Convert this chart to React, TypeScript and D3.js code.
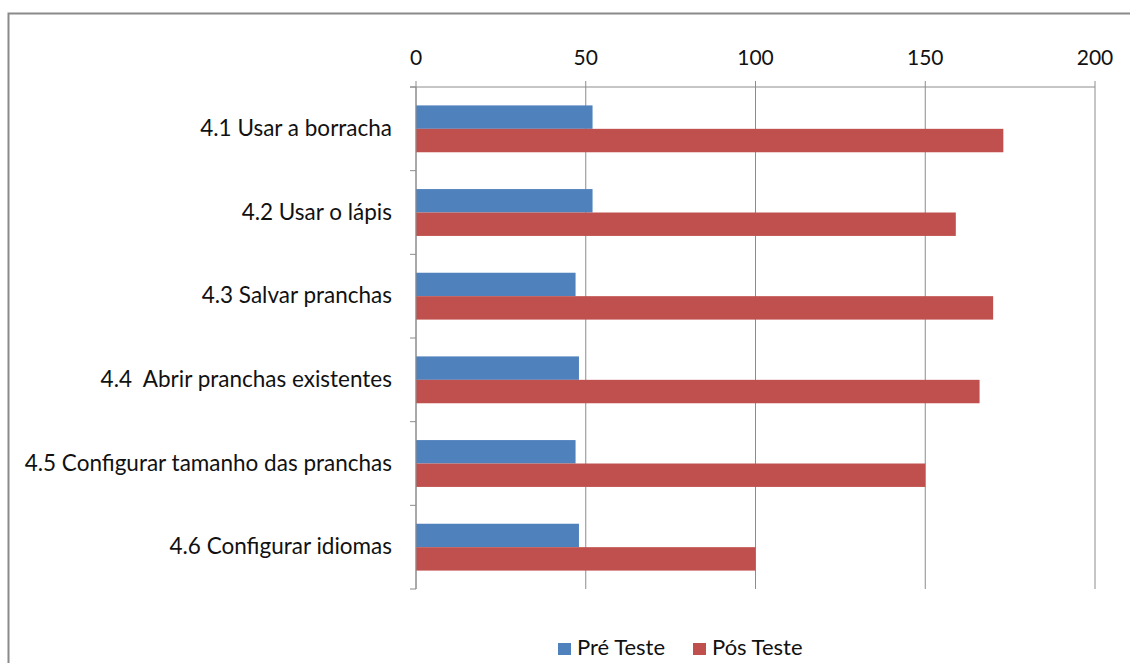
import React, { useEffect } from "react";
import * as d3 from "d3";

const categories = [
  "4.1 Usar a borracha",
  "4.2 Usar o lápis",
  "4.3 Salvar pranchas",
  "4.4  Abrir pranchas existentes",
  "4.5 Configurar tamanho das pranchas",
  "4.6 Configurar idiomas",
];
const preTeste = [52, 52, 47, 48, 47, 48];
const posTeste = [173, 159, 170, 166, 150, 100];
const xTicks = [0, 50, 100, 150, 200];
const seriesNames = ["Pré Teste", "Pós Teste"];
const colors = ["#4F81BD", "#C0504D"];

const W = 1130;
const H = 663;
const left = 416;
const right = 1095;
const top = 87;
const bottom = 589;
const FONT = "Lato, 'Open Sans', sans-serif";

export default function App() {
  useEffect(() => {
    document.body.style.margin = "0";
  }, []);
  const x = d3.scaleLinear().domain([0, 200]).range([left, right]);
  const y = d3.scaleBand<string>().domain(categories).range([top, bottom]).paddingInner(0).paddingOuter(0);
  const bandH = y.bandwidth();
  const groupPad = bandH * 0.22;
  const barH = (bandH - 2 * groupPad) / 2;
  const series = [preTeste, posTeste];
  const gridColor = "#8c8c8c";

  return (
    <div style={{ position: "absolute", left: 0, top: 0 }}>
      <svg width={W} height={H} style={{ display: "block" }}>
        <rect x={0} y={0} width={W} height={H} fill="#fff" />
        {/* frame */}
        <path d={`M8.5,${H} L8.5,13.5 L${W},13.5`} fill="none" stroke="#8a8a8a" strokeWidth={2} />
        {/* gridlines */}
        {xTicks.map((t) => (
          <line key={"g" + t} x1={x(t)} x2={x(t)} y1={top - 6} y2={bottom} stroke={gridColor} strokeWidth={1} />
        ))}
        {/* top axis line */}
        <line x1={left - 6} x2={right} y1={top} y2={top} stroke={gridColor} strokeWidth={1} />
        {/* category ticks */}
        {d3.range(categories.length + 1).map((i) => (
          <line key={"ct" + i} x1={left - 6} x2={left} y1={top + i * bandH} y2={top + i * bandH} stroke={gridColor} strokeWidth={1} />
        ))}
        {/* bars */}
        {categories.map((c, i) =>
          series.map((s, k) => (
            <rect
              key={c + k}
              x={x(0)}
              y={(y(c) as number) + groupPad + k * barH}
              width={x(s[i]) - x(0)}
              height={barH}
              fill={colors[k]}
            />
          ))
        )}
        {/* y axis line */}
        <line x1={left} x2={left} y1={top} y2={bottom} stroke={gridColor} strokeWidth={1} />
        {/* tick labels */}
        {xTicks.map((t) => (
          <text key={"tl" + t} x={x(t)} y={65} textAnchor="middle" fontFamily={FONT} fontSize={21} fill="#111">
            {t}
          </text>
        ))}
        {categories.map((c) => (
          <text
            key={"cl" + c}
            x={392}
            y={(y(c) as number) + bandH / 2 + 7}
            textAnchor="end"
            fontFamily={FONT}
            fontSize={22.5}
            fill="#111"
            style={{ whiteSpace: "pre" }}
          >
            {c}
          </text>
        ))}
        {/* legend */}
        {seriesNames.map((n, k) => {
          const lx = k === 0 ? 558 : 693;
          return (
            <g key={n}>
              <rect x={lx} y={643} width={13} height={12} fill={colors[k]} />
              <text x={lx + 19} y={655} fontFamily={FONT} fontSize={22} fill="#111">
                {n}
              </text>
            </g>
          );
        })}
      </svg>
    </div>
  );
}
